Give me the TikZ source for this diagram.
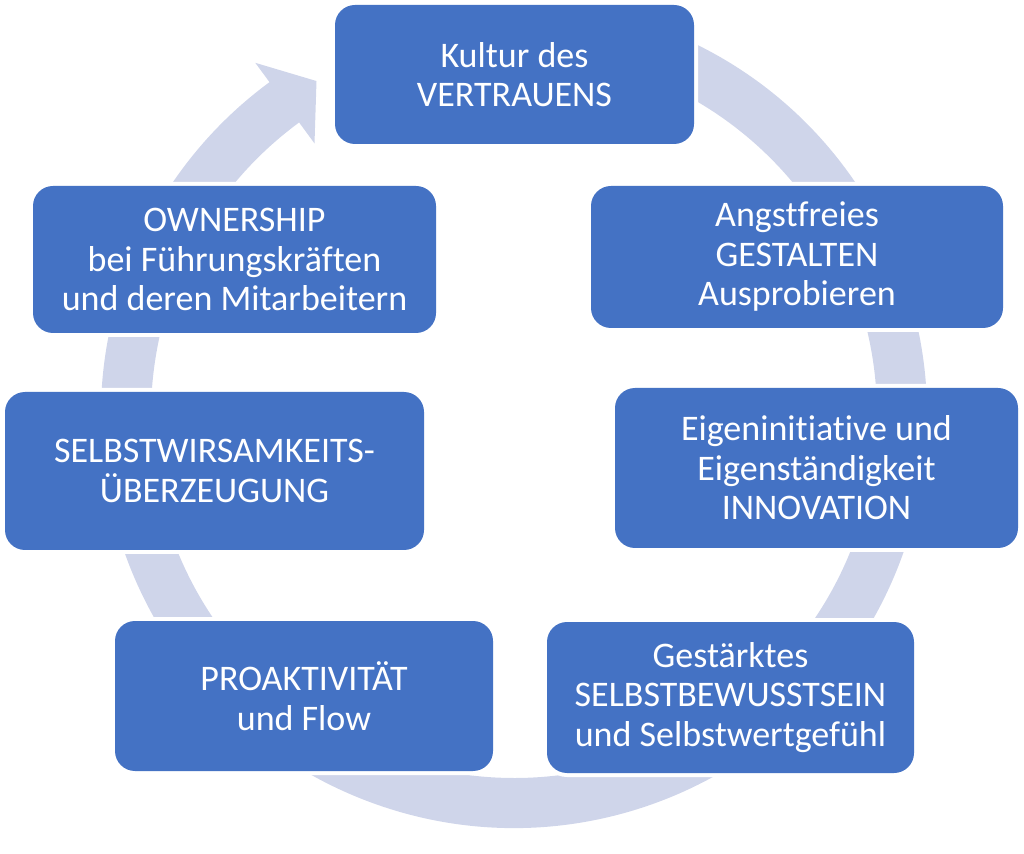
\documentclass[tikz,border=0pt]{standalone}
\usepackage{fontspec}
\setmainfont{Carlito}[Ligatures=NoCommon]
\definecolor{boxblue}{HTML}{4472C4}
\definecolor{ringblue}{HTML}{CFD5EA}

\begin{document}
\begin{tikzpicture}
  [x=0.5pt, y=0.5pt,
   every node/.style={shape=rectangle, align=center},
   stage/.style={fill=boxblue, text=white, rounded corners=10pt, inner sep=0pt,
     preaction={draw=white, line width=4pt},
     font=\fontsize{18}{19.75}\selectfont},
   ring/.style={fill=ringblue}]
  \useasboundingbox (0,0) rectangle (1024,853);
  \begin{scope}[shift={(514,438)}]
    \fill[ring] (70:413) arc[start angle=70, end angle=-233.7, radius=413]
      -- (126.3:437) -- (120.6:388) -- (126.3:337) -- (126.3:363)
      arc[start angle=-233.7, end angle=70, radius=363] -- cycle;
  \end{scope}
  \node[stage, minimum width=179.5pt, minimum height=69.5pt] (kultur) at (514.5,778.5)
    {Kultur des\\VERTRAUENS};
  \node[stage, minimum width=206pt, minimum height=71pt] (angst) at (797,596)
    {Angstfreies\\GESTALTEN\\Ausprobieren};
  \node[stage, minimum width=201.5pt, minimum height=80pt] (eigen) at (816.5,385)
    {Eigeninitiative und\\Eigenständigkeit\\INNOVATION};
  \node[stage, minimum width=183.5pt, minimum height=75.5pt] (staerke) at (730.5,155.5)
    {Gestärktes\\SELBSTBEWUSSTSEIN\\und Selbstwertgefühl};
  \node[stage, minimum width=189pt, minimum height=75pt] (proakt) at (304,157)
    {PROAKTIVITÄT\\und Flow};
  \node[stage, minimum width=209.5pt, minimum height=79pt] (wirksam) at (214.5,382)
    {SELBSTWIRSAMKEITS-\\ÜBERZEUGUNG};
  \node[stage, minimum width=201.5pt, minimum height=73.5pt] (owner) at (234.5,593.5)
    {OWNERSHIP\\bei Führungskräften\\und deren Mitarbeitern};
\end{tikzpicture}
\end{document}
